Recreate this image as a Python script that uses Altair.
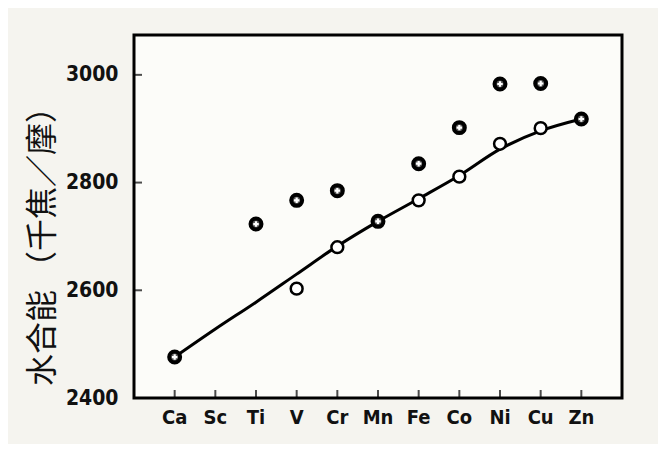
import altair as alt
import pandas as pd

elements = ["Ca", "Sc", "Ti", "V", "Cr", "Mn", "Fe", "Co", "Ni", "Cu", "Zn"]

# crossed (experimental) points
upper_elems = ["Ca", "Ti", "V", "Cr", "Mn", "Fe", "Co", "Ni", "Cu", "Zn"]
upper_vals = [2476, 2723, 2767, 2785, 2728, 2835, 2902, 2983, 2984, 2918]

# open (corrected) points
open_elems = ["V", "Cr", "Fe", "Co", "Ni", "Cu"]
open_vals = [2603, 2680, 2767, 2811, 2872, 2901]

# smooth trend line
line_vals = [2476, 2528, 2578, 2630, 2682, 2728, 2770, 2813, 2862, 2896, 2918]

y_ticks = [2400, 2600, 2800, 3000]

W, H = 488, 363
FONT = "DejaVu Sans Condensed"

df_line = pd.DataFrame({"el": elements, "v": line_vals})
df_up = pd.DataFrame({"el": upper_elems, "v": upper_vals})
df_open = pd.DataFrame({"el": open_elems, "v": open_vals})
df_xt = pd.DataFrame({"el": elements})
df_yt = pd.DataFrame({"v": y_ticks})

xscale = alt.Scale(domain=elements, padding=1.02)
yscale = alt.Scale(domain=[2400, 3074], nice=False, zero=False)

xenc = alt.X("el:N", scale=xscale, sort=elements,
             axis=alt.Axis(title=None, labelAngle=0, domain=False, ticks=False,
                           tickSize=0, labelPadding=9, labelFont=FONT,
                           labelFontSize=20, labelFontWeight="bold",
                           labelColor="#111"))
yenc = alt.Y("v:Q", scale=yscale,
             axis=alt.Axis(title="水合能 （千焦／摩）", values=y_ticks, format="d",
                           domain=False, ticks=False, tickSize=0, grid=False,
                           labelPadding=16, labelFont=FONT, labelFontSize=21,
                           labelFontWeight="bold", labelColor="#111",
                           titleFont="Noto Sans CJK SC", titleFontSize=32,
                           titleFontWeight="normal", titleColor="#111",
                           titleAngle=-90, titleX=-92, titleY=203,
                           titleAlign="center", titleBaseline="middle"))

line = alt.Chart(df_line).mark_line(color="black", strokeWidth=3,
                                    interpolate="monotone").encode(x=xenc, y=yenc)

upper = alt.Chart(df_up).mark_point(shape="circle", size=120, filled=True,
                                    fill="#555", stroke="black",
                                    strokeWidth=4, opacity=1).encode(
    x=alt.X("el:N", scale=xscale, sort=elements), y=alt.Y("v:Q", scale=yscale))
upper_c = alt.Chart(df_up).mark_point(shape="cross", size=30, filled=True,
                                      color="white", opacity=1).encode(
    x=alt.X("el:N", scale=xscale, sort=elements), y=alt.Y("v:Q", scale=yscale))

opn = alt.Chart(df_open).mark_point(shape="circle", size=140, filled=True,
                                    fill="white", stroke="black",
                                    strokeWidth=2.5, opacity=1).encode(
    x=alt.X("el:N", scale=xscale, sort=elements), y=alt.Y("v:Q", scale=yscale))

xt = alt.Chart(df_xt).mark_tick(orient="vertical", size=8, thickness=2,
                                color="black", yOffset=-4).encode(
    x=alt.X("el:N", scale=xscale, sort=elements), y=alt.value(H))
yt = alt.Chart(df_yt).mark_tick(orient="horizontal", size=8, thickness=2,
                                color="black", xOffset=4).encode(
    y=alt.Y("v:Q", scale=yscale), x=alt.value(0))

chart = alt.layer(line, opn, upper, upper_c, xt, yt).properties(
    width=W, height=H,
    autosize=alt.AutoSizeParams(type="none"),
    padding={"left": 126, "top": 27, "right": 36, "bottom": 46},
    background="#f5f4ef",
).configure_view(stroke="black", strokeWidth=3, fill="#fcfcf9")

chart.save("out.html", embed_options={"renderer": "svg", "actions": False})
